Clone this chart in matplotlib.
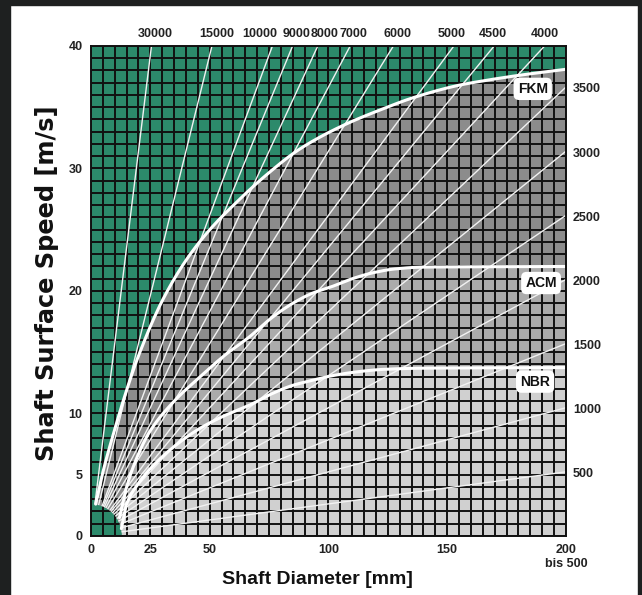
import numpy as np
import matplotlib
matplotlib.use("Agg")
import matplotlib.pyplot as plt
from matplotlib.patches import Ellipse, Rectangle

plt.rcParams['font.family'] = ['Liberation Sans', 'DejaVu Sans']

# rpm lines (v = pi * d * n / 60000)
rpm_top = [30000, 15000, 10000, 9000, 8000, 7000, 6000, 5000, 4500, 4000]
rpm_top_label_x = [27, 53, 71, 86.5, 98.5, 110.5, 129, 152, 169, 191]
rpm_right = [3500, 3000, 2500, 2000, 1500, 1000, 500]

# material limit curves (diameter mm, speed m/s)
fkm_d = [2.0, 5, 10, 15, 20, 30, 40, 50, 60, 74, 88, 106, 122, 136, 155, 165, 180, 200]
fkm_v = [2.6, 5.2, 8.7, 11.9, 14.7, 19.2, 22.5, 25.0, 27.0, 29.5, 31.6, 33.5, 34.8, 35.8, 36.8, 37.15, 37.6, 38.1]
acm_d = [12, 15, 20, 25, 35, 46, 56, 67, 76, 85, 93, 102, 110, 119, 128, 140, 200]
acm_v = [1.5, 4.0, 6.7, 8.6, 11.0, 13.0, 14.7, 16.3, 17.8, 19.0, 19.8, 20.4, 21.0, 21.5, 21.8, 21.95, 22.0]
nbr_d = [12.8, 15, 20, 25, 35, 46, 56, 67, 76, 85, 93, 102, 112, 123, 140, 200]
nbr_v = [0.6, 2.6, 4.3, 5.5, 7.3, 8.8, 9.8, 10.7, 11.6, 12.3, 12.7, 13.1, 13.4, 13.6, 13.7, 13.75]

materials = ['FKM', 'ACM', 'NBR']
label_pos = [(186, 36.5), (189.5, 20.65), (187, 12.6)]

green = '#2c8a6b'
dark = '#8c8c8c'
mid = '#ababab'
light = '#d0d0d0'


def pchip(xk, yk, xs):
    # monotone cubic (Fritsch-Carlson) so the curves bend smoothly
    xk = np.asarray(xk, float)
    yk = np.asarray(yk, float)
    h = np.diff(xk)
    delta = np.diff(yk) / h
    m = np.zeros_like(yk)
    m[0], m[-1] = delta[0], delta[-1]
    for i in range(1, len(xk) - 1):
        if delta[i - 1] * delta[i] > 0:
            w1 = 2 * h[i] + h[i - 1]
            w2 = h[i] + 2 * h[i - 1]
            m[i] = (w1 + w2) / (w1 / delta[i - 1] + w2 / delta[i])
    xs = np.clip(xs, xk[0], xk[-1])
    idx = np.clip(np.searchsorted(xk, xs) - 1, 0, len(xk) - 2)
    t = (xs - xk[idx]) / h[idx]
    h00 = 2 * t ** 3 - 3 * t ** 2 + 1
    h10 = t ** 3 - 2 * t ** 2 + t
    h01 = -2 * t ** 3 + 3 * t ** 2
    h11 = t ** 3 - t ** 2
    return h00 * yk[idx] + h10 * h[idx] * m[idx] + h01 * yk[idx + 1] + h11 * h[idx] * m[idx + 1]


fig = plt.figure(figsize=(6.42, 5.95), dpi=100)
ax = fig.add_axes([0.1417, 0.0992, 0.7399, 0.8235])
ax.set_facecolor(green)
ax.set_xlim(0, 200)
ax.set_ylim(0, 40)

x = np.linspace(0, 200, 1601)
ax.fill_between(x, 0, pchip(fkm_d, fkm_v, x), color=dark, lw=0, zorder=1)
ax.fill_between(x, 0, pchip(acm_d, acm_v, x), color=mid, lw=0, zorder=1)
ax.fill_between(x, 0, pchip(nbr_d, nbr_v, x), color=light, lw=0, zorder=1)

# green hub around the origin
rx, ry = 13.0, 2.6
ax.add_patch(Ellipse((0, 0), 2 * rx, 2 * ry, color=green, lw=0, zorder=1.5))

# grid
ax.set_xticks(np.arange(0, 201, 5), minor=True)
ax.set_yticks(np.arange(0, 41, 1), minor=True)
ax.grid(which='both', color='#111111', lw=1.4, zorder=2)
ax.set_axisbelow(False)
for gl in ax.get_xgridlines() + ax.get_ygridlines():
    gl.set_zorder(2)

# rpm lines start at the hub edge
for n in rpm_top + rpm_right:
    k = np.pi * n / 60000.0
    d0 = 1.0 / np.sqrt((1 / rx) ** 2 + (k / ry) ** 2)
    d1 = min(200.0, 40.0 / k)
    ax.plot([d0, d1], [k * d0, k * d1], color='#f2f2f2', lw=1.0, zorder=3,
            solid_capstyle='butt')

for d, v in [(fkm_d, fkm_v), (acm_d, acm_v), (nbr_d, nbr_v)]:
    xs = np.linspace(d[0], d[-1], 400)
    ax.plot(xs, pchip(d, v, xs), color='white', lw=2.2, zorder=4, solid_capstyle='round')

for name, (px, py) in zip(materials, label_pos):
    ax.text(px, py, name, ha='center', va='center', fontsize=10, fontweight='bold',
            color='#111111', zorder=6,
            bbox=dict(boxstyle='round,pad=0.3,rounding_size=0.4', fc='white', ec='none'))

tick_color = '#222222'
for n, lx in zip(rpm_top, rpm_top_label_x):
    ax.text(lx, 40.95, str(n), ha='center', va='center', fontsize=9,
            fontweight='bold', color=tick_color, clip_on=False)
for n in rpm_right:
    v = np.pi * n * 200 / 60000.0
    ax.text(203, v - 0.2, str(n), ha='left', va='center', fontsize=9,
            fontweight='bold', color=tick_color, clip_on=False)

ax.set_xticks([0, 25, 50, 100, 150, 200])
ax.set_xticklabels(['0', '25', '50', '100', '150', '200\nbis 500'])
ax.set_yticks([0, 5, 10, 20, 30, 40])
ax.tick_params(which='both', length=0, labelsize=9, labelcolor=tick_color, pad=6)
for lab in ax.get_xticklabels() + ax.get_yticklabels():
    lab.set_fontweight('bold')

for sp in ax.spines.values():
    sp.set_color('#111111')
    sp.set_linewidth(1.4)
    sp.set_zorder(5)

ax.set_xlabel('Shaft Diameter [mm]', fontsize=14, fontweight='bold', color='#111111')
ax.xaxis.set_label_coords(0.476, -0.071)
ax.set_ylabel('Shaft Surface Speed [m/s]', fontsize=17.3, fontweight='bold', color='#111111',
              family=['DejaVu Sans'])
ax.yaxis.set_label_coords(-0.068, 0.516)

# dark frame strips of the screenshot
fig.patches.append(Rectangle((0, 0), 10 / 642, 1, transform=fig.transFigure, color='#1e2020', zorder=0))
fig.patches.append(Rectangle((0, 1 - 5 / 595), 1, 5 / 595, transform=fig.transFigure, color='#1e2020', zorder=0))
fig.patches.append(Rectangle((1 - 4 / 642, 0), 4 / 642, 1, transform=fig.transFigure, color='#1e2020', zorder=0))

fig.savefig('out.png', dpi=100)
